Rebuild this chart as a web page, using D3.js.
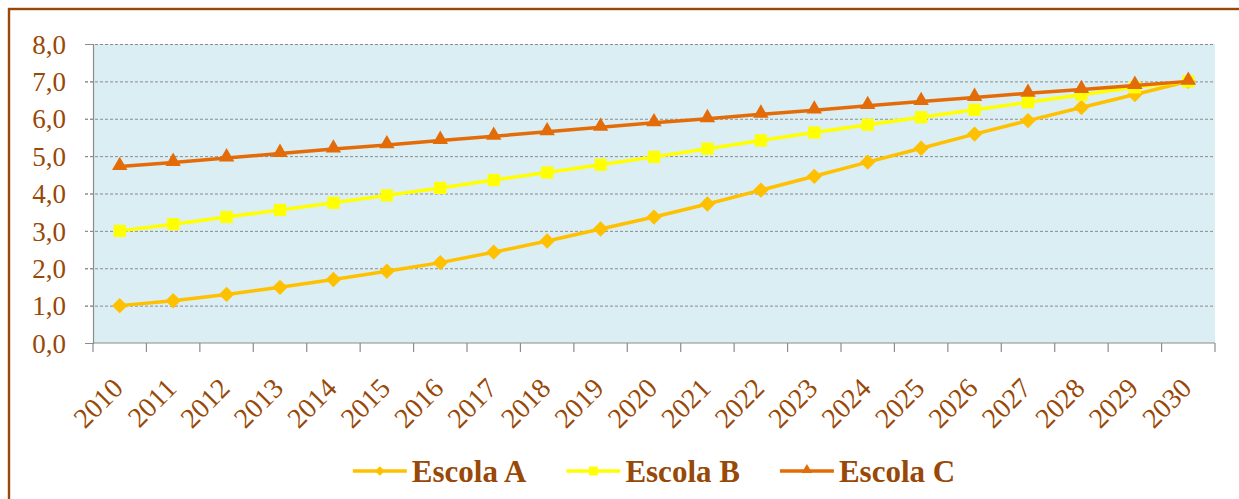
<!DOCTYPE html>
<html>
<head>
<meta charset="utf-8">
<script src="https://cdn.jsdelivr.net/npm/d3@7"></script>
<style>
  body { margin: 0; background: #fff; }
  svg { display: block; }
</style>
</head>
<body>
<svg id="chart" width="1239" height="499"></svg>
<script>
// data
var years = ["2010","2011","2012","2013","2014","2015","2016","2017","2018","2019","2020",
             "2021","2022","2023","2024","2025","2026","2027","2028","2029","2030"]
var escolaA = [1.00,1.13,1.30,1.49,1.70,1.92,2.15,2.43,2.73,3.05,3.37,3.72,4.09,4.46,4.84,5.21,5.59,5.95,6.30,6.65,7.00]
var escolaB = [3.00,3.18,3.37,3.56,3.75,3.95,4.15,4.36,4.56,4.77,4.98,5.20,5.42,5.63,5.84,6.04,6.24,6.44,6.64,6.84,7.00]
var escolaC = [4.72,4.83,4.95,5.07,5.19,5.30,5.42,5.53,5.65,5.77,5.89,6.00,6.12,6.23,6.35,6.46,6.57,6.68,6.78,6.89,7.00]
var yTicks = [0,1,2,3,4,5,6,7,8]
var seriesNames = ["Escola A", "Escola B", "Escola C"]

var colors = ["#FFC000", "#FFFF00", "#E36C09"]
var shapes = [d3.symbolDiamond2, d3.symbolSquare2, d3.symbolTriangle2]
var markSize = [150, 190, 170]
var legSize = [60, 100, 80]
var brown = "#984807"
var serif = "'Liberation Serif', 'Times New Roman', serif"

var svg = d3.select("#chart")
var margin = { top: 44, left: 93, bottom: 156, right: 24 }
var width = +svg.attr("width"), height = +svg.attr("height")

// outer frame
svg.append("rect")
  .attr("x", 9).attr("y", 9)
  .attr("width", width + 20).attr("height", height + 20)
  .attr("fill", "none").attr("stroke", brown).attr("stroke-width", 2.4)

var x = d3.scaleBand()
  .domain(years)
  .range([margin.left, width - margin.right])

var y = d3.scaleLinear()
  .domain([0, 8])
  .range([height - margin.bottom, margin.top])

// plot background
svg.append("rect")
  .attr("x", margin.left).attr("y", margin.top)
  .attr("width", x.range()[1] - margin.left)
  .attr("height", y(0) - margin.top)
  .attr("fill", "#DAEEF3")

// grid lines
svg.append("g")
  .selectAll("line")
  .data(yTicks.filter(d => d > 0))
  .enter().append("line")
  .attr("x1", margin.left - 8)
  .attr("x2", x.range()[1])
  .attr("y1", d => y(d) + 0.5)
  .attr("y2", d => y(d) + 0.5)
  .attr("stroke", "#8c8c8c")
  .attr("stroke-dasharray", "3,2")
  .attr("stroke-width", 1)

// y axis
var yAxis = svg.append("g")
  .attr("transform", "translate(" + margin.left + ",0)")
  .call(d3.axisLeft(y).tickValues(yTicks).tickSize(8)
    .tickFormat(d => d3.format(".1f")(d).replace(".", ",")))
yAxis.select(".domain").attr("stroke", "#8c8c8c").attr("stroke-width", 1.2)
yAxis.selectAll(".tick line").attr("stroke", "#8c8c8c").attr("stroke-dasharray", "3,2")
yAxis.selectAll(".tick text")
  .attr("x", -27)
  .attr("dy", "0.34em")
  .style("font-family", serif)
  .style("font-size", "27px")
  .attr("fill", brown)

// x axis: ticks between categories
var xAxisG = svg.append("g")
  .attr("transform", "translate(0," + y(0) + ")")
xAxisG.append("line")
  .attr("x1", margin.left).attr("x2", x.range()[1])
  .attr("y1", 0).attr("y2", 0)
  .attr("stroke", "#8c8c8c").attr("stroke-width", 1.2)
xAxisG.selectAll(".tk")
  .data(years.concat(["end"]))
  .enter().append("line")
  .attr("class", "tk")
  .attr("x1", (d, i) => i < years.length ? x(d) : x.range()[1])
  .attr("x2", (d, i) => i < years.length ? x(d) : x.range()[1])
  .attr("y1", 0).attr("y2", 9)
  .attr("stroke", "#8c8c8c").attr("stroke-width", 1.2)
xAxisG.selectAll("text")
  .data(years)
  .enter().append("text")
  .attr("transform", d => "translate(" + (x(d) + x.bandwidth() / 2 - 2) + ",40) rotate(-45)")
  .attr("text-anchor", "end")
  .attr("dy", "0.35em")
  .style("font-family", serif)
  .style("font-size", "28px")
  .attr("fill", brown)
  .text(d => d)

// lines and markers
var allSeries = [escolaA, escolaB, escolaC]
var line = d3.line()
  .x((d, i) => x(years[i]) + x.bandwidth() / 2)
  .y(d => y(d))

allSeries.forEach(function (vals, s) {
  var g = svg.append("g")
  g.append("path")
    .datum(vals)
    .attr("d", line)
    .attr("fill", "none")
    .attr("stroke", colors[s])
    .attr("stroke-width", 3.5)
  g.selectAll("path.m")
    .data(vals)
    .enter().append("path")
    .attr("class", "m")
    .attr("transform", (d, i) => "translate(" + (x(years[i]) + x.bandwidth() / 2) + "," + (y(d) + (s == 2 ? -1 : 0)) + ")")
    .attr("d", d3.symbol().type(shapes[s]).size(markSize[s]))
    .attr("fill", colors[s])
})

// legend, centred under the plot
var legend = svg.append("g").attr("transform", "translate(0,471)")
var items = []
seriesNames.forEach(function (name, s) {
  var lg = legend.append("g")
  lg.append("line")
    .attr("x1", 0).attr("x2", 54)
    .attr("y1", 0).attr("y2", 0)
    .attr("stroke", colors[s]).attr("stroke-width", 3.5)
  lg.append("path")
    .attr("transform", "translate(27," + (s == 2 ? -1 : 0) + ")")
    .attr("d", d3.symbol().type(shapes[s]).size(legSize[s]))
    .attr("fill", colors[s])
  var t = lg.append("text")
    .attr("x", 59)
    .attr("y", 11)
    .style("font-family", serif)
    .style("font-size", "31px")
    .style("font-weight", "bold")
    .attr("fill", brown)
    .text(name)
  items.push({ g: lg, w: 59 + t.node().getComputedTextLength() })
})
var gap = 40
var total = d3.sum(items, d => d.w) + gap * (items.length - 1)
var pos = (margin.left + x.range()[1]) / 2 - total / 2
items.forEach(function (it) {
  it.g.attr("transform", "translate(" + pos + ",0)")
  pos += it.w + gap
})
</script>
</body>
</html>
